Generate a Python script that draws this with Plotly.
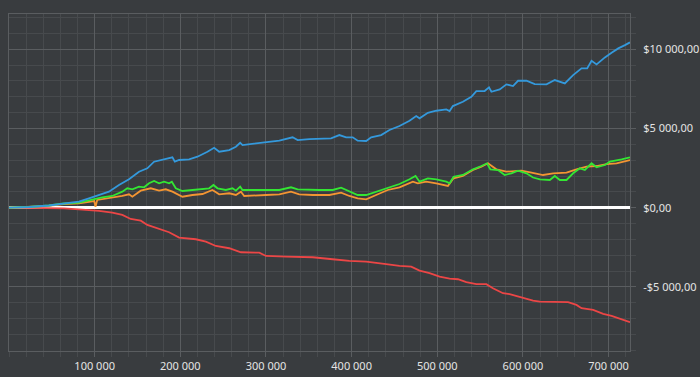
import plotly.graph_objects as go

# ---- data (x in thousands of units, y in $) ----
blue_x = [0, 23.2, 46.5, 64.1, 81.6, 93.3, 105.0, 116.7, 128.4, 140.1, 151.8, 161.5, 169.4, 183.0, 190.8, 193.6,
          198.6, 210.3, 220.0, 231.7, 239.5, 245.4, 257.1, 264.9, 269.9, 272.6, 292.2, 301.9, 315.6, 331.1, 337.0,
          350.6, 376.0, 385.7, 393.6, 401.3, 407.1, 417.0, 422.8, 434.5, 444.2, 455.9, 467.6, 475.4, 479.3, 489.0,
          498.8, 510.5, 514.4, 518.2, 529.9, 539.8, 545.6, 555.3, 560.4, 563.2, 572.9, 580.7, 588.4, 594.3, 604.1,
          613.8, 627.5, 637.2, 648.9, 658.6, 668.4, 675.0, 680.1, 686.0, 695.7, 703.5, 711.3, 719.1, 725.0]
blue_y = [0, 44, 139, 265, 379, 593, 801, 1010, 1432, 1792, 2272, 2486, 2903, 3054, 3180, 2903,
          3010, 3054, 3218, 3534, 3786, 3534, 3641, 3849, 4102, 3956, 4064, 4165, 4228, 4442, 4272,
          4335, 4379, 4587, 4442, 4442, 4228, 4209, 4442, 4587, 4903, 5155, 5490, 5786, 5641, 5994,
          6121, 6209, 6102, 6417, 6689, 7004, 7364, 7364, 7597, 7320, 7471, 7787, 7679, 8014, 8014,
          7806, 7787, 8058, 7850, 8373, 8796, 8796, 9276, 9049, 9490, 9781, 10058, 10266, 10437]

green_x = [0, 23.2, 46.5, 64.1, 81.6, 97.2, 108.9, 120.6, 132.3, 138.1, 144.0, 151.8, 157.7, 163.5, 169.4, 175.2,
           181.1, 186.9, 190.1, 194.7, 202.5, 214.2, 225.9, 233.7, 238.7, 243.4, 253.2, 260.9, 264.9, 269.9,
           272.6, 292.2, 315.6, 329.2, 337.0, 362.3, 377.9, 387.7, 397.4, 407.1, 417.0, 428.6, 442.2, 455.9,
           467.6, 474.6, 479.3, 489.0, 498.8, 510.5, 514.4, 519.0, 529.9, 541.7, 551.5, 558.0, 562.0, 570.9,
           578.7, 586.5, 594.3, 604.1, 611.8, 619.7, 631.4, 637.2, 643.1, 650.9, 658.6, 666.5, 672.3, 680.1,
           686.0, 695.7, 701.5, 709.3, 715.2, 725.0]
green_y = [0, 44, 139, 265, 316, 530, 656, 738, 1010, 1224, 1161, 1325, 1287, 1540, 1685, 1540,
           1641, 1540, 1641, 1224, 1054, 1117, 1161, 1224, 1432, 1224, 1117, 1224, 1073, 1325,
           1117, 1117, 1117, 1287, 1161, 1117, 1117, 1262, 1010, 801, 801, 1010, 1287, 1495,
           1792, 2000, 1641, 1855, 1792, 1641, 1540, 1956, 2063, 2423, 2631, 2802, 2423, 2379,
           2063, 2171, 2335, 2171, 1906, 1792, 1748, 2000, 1748, 1748, 2171, 2486, 2379, 2802,
           2549, 2694, 2903, 2966, 3054, 3180]

orange_x = [0, 23.2, 46.5, 64.1, 81.6, 99.5, 101.0, 103.0, 116.7, 132.3, 140.1, 144.0, 153.8, 165.5, 175.2, 183.0,
            190.8, 202.5, 214.2, 225.9, 237.5, 245.4, 257.1, 264.9, 270.8, 274.6, 300.0, 315.6, 329.2, 338.9,
            354.5, 374.0, 387.7, 397.4, 407.1, 417.0, 428.6, 442.2, 455.9, 471.5, 477.3, 487.1, 498.8, 512.4,
            519.0, 529.9, 541.7, 551.5, 559.2, 565.0, 569.0, 580.7, 594.3, 598.2, 610.0, 619.7, 623.5, 635.3,
            650.9, 662.5, 674.3, 686.0, 697.7, 709.3, 725.0]
orange_y = [0, 38, 120, 230, 278, 420, 60, 486, 593, 738, 846, 694, 1073, 1224, 1073, 1161,
            1010, 694, 801, 864, 1117, 846, 909, 801, 1010, 738, 801, 846, 1010, 846,
            801, 801, 947, 738, 593, 530, 801, 1117, 1287, 1641, 1540, 1641, 1540, 1369,
            1855, 2000, 2379, 2587, 2802, 2549, 2423, 2272, 2316, 2335, 2209, 2127, 2063, 2171,
            2209, 2423, 2587, 2631, 2757, 2802, 3010]

red_x = [0, 23.2, 46.5, 64.1, 81.6, 97.2, 105.0, 120.6, 132.3, 142.1, 153.8, 161.5, 175.2, 186.9, 198.6, 218.1,
         229.8, 241.5, 257.1, 270.8, 292.2, 300.0, 323.4, 354.5, 377.9, 385.7, 397.4, 417.0, 428.6, 440.3,
         455.9, 469.6, 479.3, 491.0, 502.7, 514.4, 524.1, 533.9, 545.6, 557.3, 565.0, 576.7, 584.5, 596.3,
         611.8, 619.7, 639.2, 652.7, 662.5, 668.4, 682.0, 693.7, 703.5, 713.3, 725.0]
red_y = [0, -6, -19, -50, -101, -145, -208, -316, -461, -713, -820, -1092, -1344, -1552, -1893, -1994,
         -2145, -2417, -2562, -2814, -2840, -3048, -3092, -3130, -3256, -3300, -3363, -3407, -3508, -3571,
         -3679, -3723, -3975, -4139, -4354, -4480, -4518, -4707, -4833, -4833, -5086, -5401, -5464, -5654,
         -5868, -5931, -5969, -5969, -6140, -6348, -6455, -6708, -6834, -7023, -7231]

x_tick_vals = [100000, 200000, 300000, 400000, 500000, 600000, 700000]
x_tick_text = ["100 000", "200 000", "300 000", "400 000", "500 000", "600 000", "700 000"]
y_tick_vals = [-5000, 0, 5000, 10000]
y_tick_text = ["-$5 000,00", "$0,00", "$5 000,00", "$10 000,00"]

BG = "#393c3f"
GRID_MINOR = "#474a4d"
GRID_MAJOR = "#5a5d60"
TEXT = "#e4e4e4"

def k(xs):
    return [v * 1000 for v in xs]

fig = go.Figure()
series = [
    (red_x, red_y, "#ec4646"),
    (orange_x, orange_y, "#f39532"),
    (green_x, green_y, "#33e633"),
    (blue_x, blue_y, "#3499dc"),
]
for xs, ys, col in series:
    fig.add_trace(go.Scatter(x=k(xs), y=ys, mode="lines",
                             line=dict(color=col, width=1.8), hoverinfo="skip"))

fig.update_layout(
    width=700, height=377,
    margin=dict(l=9, r=70, t=14, b=26, autoexpand=False),
    paper_bgcolor=BG, plot_bgcolor=BG,
    showlegend=False,
    font=dict(family="Noto Sans", size=11, color=TEXT),
)
fig.update_xaxes(
    automargin=False,
    range=[0, 725000], tickmode="array", tickvals=x_tick_vals, ticktext=x_tick_text,
    showgrid=True, gridcolor=GRID_MAJOR, gridwidth=1,
    ticks="outside", ticklen=5, tickcolor=GRID_MAJOR,
    showline=True, linecolor=GRID_MAJOR, mirror=True, zeroline=False,
    minor=dict(dtick=20000, tick0=0, showgrid=True, gridcolor=GRID_MINOR,
               ticks="outside", ticklen=5, tickcolor=GRID_MINOR),
)
fig.update_yaxes(
    automargin=False,
    side="right", range=[-9050, 12230], tickmode="array", tickvals=y_tick_vals, ticktext=y_tick_text,
    showgrid=True, gridcolor=GRID_MAJOR, gridwidth=1,
    ticks="outside", ticklen=5, tickcolor=GRID_MAJOR, ticklabelstandoff=5,
    showline=True, linecolor=GRID_MAJOR, mirror=True,
    zeroline=True, zerolinecolor="#ffffff", zerolinewidth=2.5,
    minor=dict(dtick=1000, tick0=0, showgrid=True, gridcolor=GRID_MINOR,
               ticks="outside", ticklen=5, tickcolor=GRID_MINOR),
)

fig.write_html(
    "out.html",
    config={"displayModeBar": False},
    post_script="document.body.style.margin='0';document.body.style.background='" + BG + "';",
)
